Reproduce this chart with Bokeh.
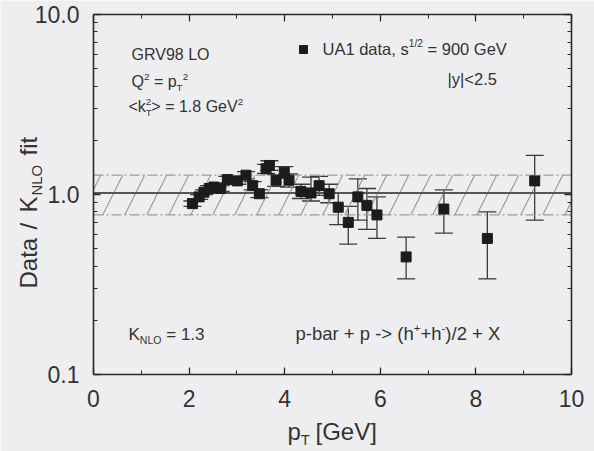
import math
from bokeh.plotting import figure
from bokeh.models import (Label, Whisker, ColumnDataSource, FixedTicker, LinearAxis,
                          LogAxis, TeeHead, Range1d, LogScale)
from bokeh.embed import file_html
from bokeh.resources import INLINE

# ---------------- data ----------------
pt = [2.07, 2.21, 2.31, 2.42, 2.52, 2.66, 2.80, 3.01, 3.19, 3.33, 3.47, 3.61, 3.68, 3.82,
      3.99, 4.09, 4.34, 4.55, 4.72, 4.93, 5.12, 5.33, 5.53, 5.72, 5.93, 6.54, 7.33, 8.24, 9.23]
ratio = [0.89, 0.97, 1.03, 1.08, 1.10, 1.08, 1.21, 1.19, 1.28, 1.12, 1.01, 1.39, 1.45, 1.20,
         1.33, 1.20, 1.04, 1.02, 1.12, 1.01, 0.85, 0.70, 0.97, 0.87, 0.77, 0.45, 0.83, 0.57, 1.19]
err_low = [0.86, 0.94, 1.00, 1.04, 1.06, 1.04, 1.16, 1.14, 1.22, 1.06, 0.96, 1.31, 1.36, 1.11,
           1.23, 1.10, 0.95, 0.92, 0.99, 0.90, 0.68, 0.53, 0.72, 0.64, 0.57, 0.34, 0.61, 0.34, 0.72]
err_high = [0.92, 1.00, 1.06, 1.12, 1.14, 1.12, 1.26, 1.24, 1.34, 1.18, 1.06, 1.47, 1.54, 1.29,
            1.43, 1.30, 1.14, 1.25, 1.26, 1.14, 1.02, 0.86, 1.22, 1.08, 0.97, 0.58, 1.06, 0.80, 1.65]

band_x = [0.0, 10.0]
band_lo = [0.77, 0.77]
band_hi = [1.28, 1.28]
band_mid = [1.02, 1.02]

x_bounds = (0, 10)
x_ticks = [0, 2, 4, 6, 8, 10]
x_minor = [1, 3, 5, 7, 9]
y_bounds = (0.1, 10)
y_ticks = [0.1, 1.0, 10.0]
y_tick_labels = ["0.1", "1.0", "10.0"]
y_minor = [0.2, 0.3, 0.4, 0.5, 0.6, 0.7, 0.8, 0.9, 2, 3, 4, 5, 6, 7, 8, 9]

# ---------------- style / layout ----------------
BG = "#eeeef0"
INK = "#2a2a2a"
TXT = "#333333"
FONT = "Liberation Sans"
NB = "\u00a0"

W, H = 594, 451
PX0, PX1, PY0, PY1 = 93, 571, 14, 374   # where the data box sits in the picture


def X(px):  # picture pixel -> data x
    return x_bounds[0] + (px - PX0) / (PX1 - PX0) * (x_bounds[1] - x_bounds[0])


def Y(py):  # picture pixel -> data y (log)
    lo, hi = math.log10(y_bounds[0]), math.log10(y_bounds[1])
    return 10 ** (hi - (py - PY0) / (PY1 - PY0) * (hi - lo))


p = figure(width=W, height=H, x_range=Range1d(X(0), X(W)), y_range=Range1d(Y(H), Y(0)),
           y_axis_type="log", x_axis_location=None, y_axis_location=None,
           output_backend="svg", toolbar_location=None,
           min_border=0, min_border_left=0, min_border_right=0, min_border_top=0,
           min_border_bottom=0, background_fill_color=BG, border_fill_color=BG,
           outline_line_color=None)
p.y_scale = LogScale()
p.grid.visible = False


def style_axis(ax, labels=True):
    ax.axis_line_color = INK
    ax.axis_line_width = 1.6
    ax.major_tick_line_color = INK
    ax.minor_tick_line_color = INK
    ax.major_tick_line_width = 1.3
    ax.minor_tick_line_width = 1.0
    ax.major_tick_in = 7
    ax.major_tick_out = 0
    ax.minor_tick_in = 4
    ax.minor_tick_out = 0
    ax.major_label_text_font = FONT
    ax.major_label_text_color = TXT
    if labels:
        ax.major_label_text_font_size = "23px"
    else:
        ax.major_label_text_font_size = "1px"
        ax.major_label_text_alpha = 0
        ax.major_label_standoff = 0


bottom = LinearAxis(ticker=FixedTicker(ticks=x_ticks, minor_ticks=x_minor),
                    fixed_location=y_bounds[0], bounds=x_bounds)
style_axis(bottom)
bottom.major_label_standoff = 15
p.add_layout(bottom, "below")

top = LinearAxis(ticker=FixedTicker(ticks=x_ticks, minor_ticks=x_minor),
                 fixed_location=y_bounds[1], bounds=x_bounds)
style_axis(top, labels=False)
top.major_label_overrides = {t: "" for t in x_ticks}
p.add_layout(top, "above")

left = LogAxis(ticker=FixedTicker(ticks=y_ticks, minor_ticks=y_minor),
               fixed_location=x_bounds[0], bounds=y_bounds)
style_axis(left)
left.major_label_standoff = 14
left.major_label_overrides = {t: s for t, s in zip(y_ticks, y_tick_labels)}
p.add_layout(left, "left")

right = LogAxis(ticker=FixedTicker(ticks=y_ticks, minor_ticks=y_minor),
                fixed_location=x_bounds[1], bounds=y_bounds)
style_axis(right, labels=False)
right.major_label_overrides = {t: "" for t in y_ticks}
p.add_layout(right, "right")

# ---------------- hatched band ----------------
p.varea(x=band_x, y1=band_lo, y2=band_hi, fill_alpha=0,
        hatch_pattern="/", hatch_color="#8e8e8e", hatch_scale=44, hatch_weight=1.1,
        hatch_alpha=0.9)
p.line(band_x, band_lo, line_color="#9a9a9a", line_width=1.2, line_dash="10 3 2 3")
p.line(band_x, band_hi, line_color="#9a9a9a", line_width=1.2, line_dash="10 3 2 3")
p.line(band_x, band_mid, line_color="#4f5a50", line_width=2.0)

# ---------------- data ----------------
src = ColumnDataSource(dict(x=pt, y=ratio, lo=err_low, hi=err_high))
p.add_layout(Whisker(source=src, base="x", lower="lo", upper="hi", line_color="#3a3a3a",
                     line_width=1.3,
                     lower_head=TeeHead(size=18, line_color="#3a3a3a", line_width=1.3),
                     upper_head=TeeHead(size=18, line_color="#3a3a3a", line_width=1.3)))
p.scatter("x", "y", source=src, marker="square", size=10, fill_color="#1c1c1c",
          line_color="#1c1c1c")

# legend key
p.scatter(x=[X(303)], y=[Y(49)], marker="square", size=8, fill_color="#1c1c1c",
          line_color="#1c1c1c")

# ---------------- rich text helper ----------------
WID = {' ': 278, NB: 278, '.': 278, ',': 278, '/': 278, '|': 260, '<': 584, '>': 584,
       '=': 584, '+': 584, '-': 333, '(': 333, ')': 333, '[': 278, ']': 278,
       'A': 667, 'D': 722, 'G': 778, 'K': 667, 'L': 556, 'N': 722, 'O': 778, 'Q': 778,
       'R': 722, 'T': 611, 'U': 722, 'V': 667, 'X': 667,
       'a': 556, 'b': 556, 'd': 556, 'e': 556, 'f': 278, 'h': 556, 'i': 222, 'k': 500,
       'p': 556, 'r': 333, 's': 500, 't': 278, 'y': 500}

BASE_FIX = 0.36   # the renderer puts the text about this many em below the given baseline


def tw(s, size):
    return sum(WID.get(c, 556) for c in s) / 1000.0 * size


def rich(runs, px, py, size, angle=0.0):
    """runs: (text, kind[, at]) ; kind n/sup/sub/sub0 ; 'at' = start pixel along the text."""
    off = 0.0
    for run in runs:
        text, kind = run[0].replace(" ", NB), run[1]
        if len(run) > 2:
            off = (run[2] - px) if angle == 0 else (py - run[2])
        fs = size if kind == "n" else size * 0.62
        if kind == "n":
            shift = 0.0
        elif kind == "sup":
            shift = size * 0.45
        else:
            shift = -size * 0.22
        shift += BASE_FIX * fs
        if angle == 0:
            xo, yo = off, shift
        else:
            xo, yo = -shift, off
        p.add_layout(Label(x=X(px), y=Y(py), x_offset=xo, y_offset=yo, text=text,
                           angle=angle, text_font=FONT, text_font_size=f"{fs:.1f}px",
                           text_color=TXT, text_baseline="alphabetic", text_align="left"))
        if kind != "sub0":
            off += tw(text, fs)


rich([("GRV98 LO", "n")], 131, 60, 16)
rich([("Q", "n"), ("2", "sup"), (" = p", "n"), ("T", "sub"), ("2", "sup")], 131, 87, 16)
rich([("<k", "n"), ("T", "sub0"), ("2", "sup"), ("> = 1.8 GeV", "n"), ("2", "sup")],
     128, 112, 16)
rich([("UA1 data, s", "n"), ("1/2", "sup"), (" = 900 GeV", "n")], 322, 54, 16.5)
rich([("|y|<2.5", "n")], 447, 84, 16.5)
rich([("K", "n"), ("NLO", "sub"), (" = 1.3", "n")], 128, 340, 17)
rich([("p-bar + p -> (h", "n"), ("+", "sup"), ("+h", "n"), ("-", "sup"), (")/2 + X", "n")],
     295, 340, 18.5)
rich([("p", "n"), ("T", "sub"), ("[GeV]", "n", 315)], 287, 440, 24)
rich([("Data", "n"), ("/", "n", 229), ("K", "n", 212), ("NLO", "sub", 195),
      ("fit", "n", 155)], 37, 288, 24, angle=math.pi / 2)

open("out.html", "w").write(file_html(p, INLINE))
